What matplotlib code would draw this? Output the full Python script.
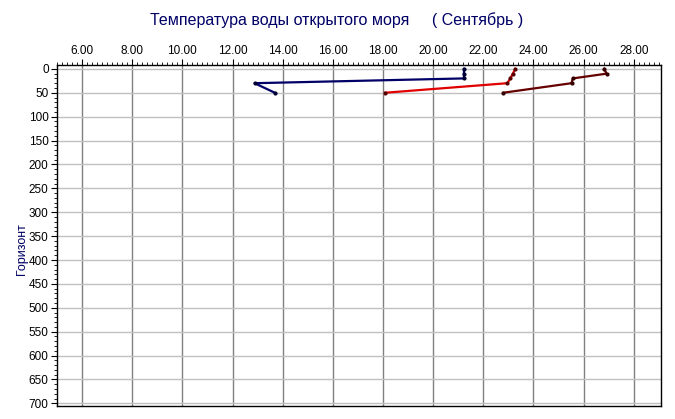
import numpy as np
import matplotlib.pyplot as plt
from matplotlib.ticker import MultipleLocator, FormatStrFormatter

plt.rcParams['font.family'] = ['Liberation Sans', 'DejaVu Sans']

#=============================
# Datos: horizonte (m) y temperatura (C)
#=============================
horizonte = [0, 10, 20, 30, 50]
temp_1 = [21.23, 21.23, 21.23, 12.88, 13.69]
temp_2 = [23.28, 23.18, 23.08, 22.96, 18.08]
temp_3 = [26.82, 26.92, 25.57, 25.52, 22.79]

series = [
    (temp_1, "#000066", "#000033"),
    (temp_2, "#e00000", "#550000"),
    (temp_3, "#660000", "#330000"),
]

fig = plt.figure(figsize=(6.75, 4.19), dpi=100)
ax = fig.add_axes([0.0844, 0.031, 0.8953, 0.8132])

for t, c, mc in series:
    ax.plot(t, horizonte, color=c, lw=1.6, zorder=3)
    ax.plot(t, horizonte, ls="none", marker="o", ms=2.0, color=mc, zorder=4)

ax.set_xlim(5.0, 29.1)
ax.set_ylim(705.5, -7.5)

ax.xaxis.tick_top()
ax.xaxis.set_major_locator(MultipleLocator(2))
ax.xaxis.set_minor_locator(MultipleLocator(0.2))
ax.xaxis.set_major_formatter(FormatStrFormatter("%.2f"))
ax.yaxis.set_major_locator(MultipleLocator(50))
ax.yaxis.set_minor_locator(MultipleLocator(10))

ax.tick_params(axis="both", which="major", labelsize=8.5, length=4, width=0.8, pad=2)
ax.tick_params(axis="both", which="minor", length=2.5, width=0.6)
ax.tick_params(axis="x", which="both", top=True, bottom=False)

ax.grid(axis="x", which="major", color="#808080", lw=1.0)
ax.grid(axis="y", which="major", color="#c0c0c0", lw=1.0)
ax.set_axisbelow(True)

for s in ax.spines.values():
    s.set_linewidth(1.0)
    s.set_color("black")

ax.set_ylabel("Горизонт", color="#000066", fontsize=9)
ax.yaxis.set_label_coords(-0.048, 0.46)
fig.text(0.498, 0.952, "Температура воды открытого моря     ( Сентябрь )",
         ha="center", va="center", color="#000066", fontsize=11.5)

fig.savefig("out.png", dpi=100)
